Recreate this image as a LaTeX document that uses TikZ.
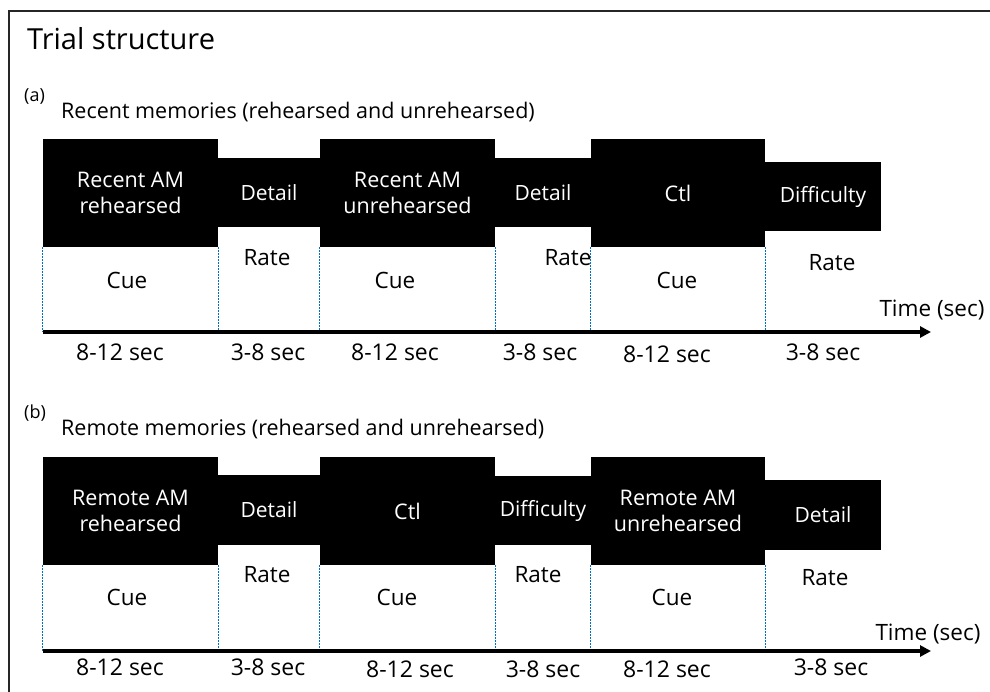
\documentclass[tikz,border=0pt]{standalone}
\usepackage{fontspec}
\setmainfont{Open Sans}
\usetikzlibrary{positioning,arrows.meta}
\definecolor{guideblue}{RGB}{0,112,192}

\begin{document}
\begin{tikzpicture}[x=1pt,y=-1pt,
    tallbox/.style={fill=black,text=white,inner sep=0pt,minimum width=175pt,minimum height=108pt,align=center,font=\fontsize{21.5}{26}\selectfont},
    shortbox/.style={fill=black,text=white,inner sep=0pt,minimum height=69pt,align=center,font=\fontsize{21}{25}\selectfont},
    lbl/.style={inner sep=0pt,font=\fontsize{22.5}{27}\selectfont},
    dur/.style={inner sep=0pt,font=\fontsize{23}{28}\selectfont},
    guide/.style={guideblue,line width=1.2pt,dash pattern=on 2pt off 1pt},
    timeline/.style={line width=3.5pt,-{Triangle[length=11pt,width=11pt]}}]
  \useasboundingbox (0,0) rectangle (990,692);
  \draw[line width=1.3pt,black!85] (9,692) -- (9,11) -- (990,11);

  % headings
  \node[anchor=base west,inner sep=0pt,font=\fontsize{29}{34}\selectfont] (title) at (27,50) {Trial structure};
  \node[anchor=base west,inner sep=0pt,font=\fontsize{18}{22}\selectfont] (tagA) at (24,102) {(a)};
  \node[anchor=base west,inner sep=0pt,font=\fontsize{21.5}{26}\selectfont] (headA) at (61,119) {Recent memories (rehearsed and unrehearsed)};
  \node[anchor=base west,inner sep=0pt,font=\fontsize{18}{22}\selectfont] (tagB) at (24,418) {(b)};
  \node[anchor=base west,inner sep=0pt,font=\fontsize{21.5}{26}\selectfont] (headB) at (61,435) {Remote memories (rehearsed and unrehearsed)};

  % (a) recent memories
  \node[tallbox] (a1) at (130.5,193) {Recent AM\\rehearsed};
  \node[shortbox,minimum width=102pt] (a2) at (269,192.5) {Detail};
  \node[tallbox] (a3) at (407.5,193) {Recent AM\\unrehearsed};
  \node[shortbox,minimum width=96pt] (a4) at (543,192.5) {Detail};
  \node[tallbox,minimum width=174pt] (a5) at (678,193) {Ctl};
  \node[shortbox,minimum width=116pt] (a6) at (823,196.5) {Difficulty};

  \coordinate (ta0) at (43,332);
  \coordinate (ta1) at (931,332);
  \foreach \b in {a1,a3,a5} {
    \draw[guide] (\b.south west) -- (\b.south west |- ta0);
    \draw[guide] (\b.south east) -- (\b.south east |- ta0);
  }
  \draw[timeline] (ta0) -- (ta1);
  \node[lbl] (timeA) at (932,310) {Time (sec)};

  \node[lbl] (cueA1) at (127,280) {Cue};
  \node[lbl] (rateA2) at (267,258) {Rate};
  \node[lbl] (cueA3) at (395,280) {Cue};
  \node[lbl] (rateA4) at (568,258) {Rate};
  \node[lbl] (cueA5) at (677,280) {Cue};
  \node[lbl] (rateA6) at (832,263) {Rate};

  \node[dur] (durA1) at (120,352) {8-12 sec};
  \node[dur] (durA2) at (268,352) {3-8 sec};
  \node[dur] (durA3) at (395,352) {8-12 sec};
  \node[dur] (durA4) at (540,352) {3-8 sec};
  \node[dur] (durA5) at (667,354) {8-12 sec};
  \node[dur] (durA6) at (823,352) {3-8 sec};

  % (b) remote memories
  \node[tallbox] (b1) at (130.5,511) {Remote AM\\rehearsed};
  \node[shortbox,minimum width=102pt,minimum height=70pt] (b2) at (269,510) {Detail};
  \node[tallbox] (b3) at (407.5,511) {Ctl};
  \node[shortbox,minimum width=96pt] (b4) at (543,510.5) {Difficulty};
  \node[tallbox,minimum width=174pt] (b5) at (678,511) {Remote AM\\unrehearsed};
  \node[shortbox,minimum width=116pt,minimum height=70pt] (b6) at (823,515) {Detail};

  \coordinate (tb0) at (43,651);
  \coordinate (tb1) at (931,651);
  \foreach \b in {b1,b3,b5} {
    \draw[guide] (\b.south west) -- (\b.south west |- tb0);
    \draw[guide] (\b.south east) -- (\b.south east |- tb0);
  }
  \draw[timeline] (tb0) -- (tb1);
  \node[lbl] (timeB) at (928,634) {Time (sec)};

  \node[lbl] (cueB1) at (127,597) {Cue};
  \node[lbl] (rateB2) at (267,575) {Rate};
  \node[lbl] (cueB3) at (397,597) {Cue};
  \node[lbl] (rateB4) at (538,575) {Rate};
  \node[lbl] (cueB5) at (672,597) {Cue};
  \node[lbl] (rateB6) at (825,578) {Rate};

  \node[dur] (durB1) at (120,667) {8-12 sec};
  \node[dur] (durB2) at (268,667) {3-8 sec};
  \node[dur] (durB3) at (410,669) {8-12 sec};
  \node[dur] (durB4) at (543,669) {3-8 sec};
  \node[dur] (durB5) at (667,669) {8-12 sec};
  \node[dur] (durB6) at (831,667) {3-8 sec};
\end{tikzpicture}
\end{document}
